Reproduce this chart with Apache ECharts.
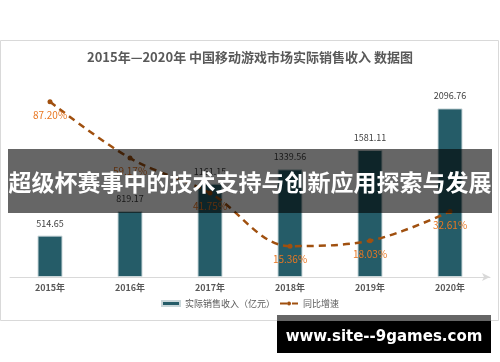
<!DOCTYPE html>
<html>
<head>
<meta charset="utf-8">
<script src="https://cdn.jsdelivr.net/npm/echarts@6/dist/echarts.min.js"></script>
<style>
html,body{margin:0;padding:0;background:#fff;}
#c{width:500px;height:362px;}
</style>
</head>
<body>
<div id="c"></div>
<script>
var categories = ['2015年', '2016年', '2017年', '2018年', '2019年', '2020年'];
var revenue = [514.65, 819.17, 1161.15, 1339.56, 1581.11, 2096.76];
var growth = [87.20, 59.17, 41.75, 15.36, 18.03, 32.61];
var titleText = '2015年—2020年 中国移动游戏市场实际销售收入 数据图';
var bannerText = '超级杯赛事中的技术支持与创新应用探索与发展';
var watermarkText = 'www.site--9games.com';
var seriesNames = ['实际销售收入（亿元）', '同比增速'];

var chart = echarts.init(document.getElementById('c'), null, {renderer: 'canvas'});
var font = '"Noto Sans CJK SC", "Noto Sans", sans-serif';
chart.setOption({
  backgroundColor: '#fff',
  animation: false,
  title: {
    text: titleText,
    left: 'center',
    top: 46,
    textStyle: {fontFamily: font, fontSize: 13, fontWeight: 'bold', color: '#595959'}
  },
  legend: {
    bottom: 49,
    left: 'center',
    itemGap: 4,
    textStyle: {fontFamily: font, fontSize: 9, color: '#595959'},
    data: [
      {name: seriesNames[0], icon: 'rect', itemStyle: {color: '#255C68'}},
      {name: seriesNames[1]}
    ],
    itemWidth: 18,
    itemHeight: 5
  },
  grid: {left: 10, right: 10, top: 76, bottom: 85, containLabel: false},
  xAxis: {
    type: 'category',
    data: categories,
    boundaryGap: true,
    axisLine: {show: true, lineStyle: {color: '#D9D9D9', width: 1}, symbol: ['none', 'arrow'], symbolSize: [6, 8]},
    axisTick: {show: false},
    axisLabel: {fontFamily: font, fontSize: 9, fontWeight: 'bold', color: '#595959', margin: 6}
  },
  yAxis: [
    {type: 'value', min: 0, max: 2500, show: false, splitLine: {show: false}},
    {type: 'value', min: 0, max: 100, show: false, splitLine: {show: false}}
  ],
  series: [
    {
      name: seriesNames[0],
      type: 'bar',
      data: revenue,
      barWidth: 25,
      itemStyle: {color: '#255C68', borderColor: '#C9D6D9', borderWidth: 1},
      label: {show: true, position: 'top', distance: 8, fontFamily: font, fontSize: 9, color: '#404040',
        formatter: function (p) { return p.value.toFixed(2); }}
    },
    {
      name: seriesNames[1],
      type: 'line',
      yAxisIndex: 1,
      data: growth,
      smooth: 0.35,
      symbol: 'circle',
      symbolSize: 5,
      itemStyle: {color: '#A0500F'},
      lineStyle: {color: '#A0500F', width: 2.5, type: [7, 5]},
      label: {show: true, position: 'bottom', distance: 6, fontFamily: font, fontSize: 10, color: '#E87722',
        formatter: function (p) { return p.value.toFixed(2) + '%'; }},
      z: 3
    }
  ],
  graphic: [
    {type: 'rect', shape: {x: 0.5, y: 40.5, width: 498, height: 280}, style: {fill: 'none', stroke: '#D9D9D9', lineWidth: 1}, z: 1, silent: true},
    {type: 'rect', shape: {x: 8, y: 149, width: 484, height: 64}, style: {fill: 'rgba(0,0,0,0.6)'}, z: 100},
    {type: 'text', x: 250, y: 182, style: {text: bannerText, fill: '#fff', font: 'bold 23px "Noto Sans CJK SC", sans-serif', textAlign: 'center', textVerticalAlign: 'middle'}, z: 101},
    {type: 'rect', shape: {x: 277, y: 315, width: 214, height: 6}, style: {fill: '#666666'}, z: 100},
    {type: 'rect', shape: {x: 277, y: 321, width: 214, height: 32}, style: {fill: '#000'}, z: 100},
    {type: 'text', x: 384, y: 337, style: {text: watermarkText, fill: '#fff', font: 'bold 15px "DejaVu Sans", sans-serif', textAlign: 'center', textVerticalAlign: 'middle'}, z: 101}
  ]
});
</script>
</body>
</html>
